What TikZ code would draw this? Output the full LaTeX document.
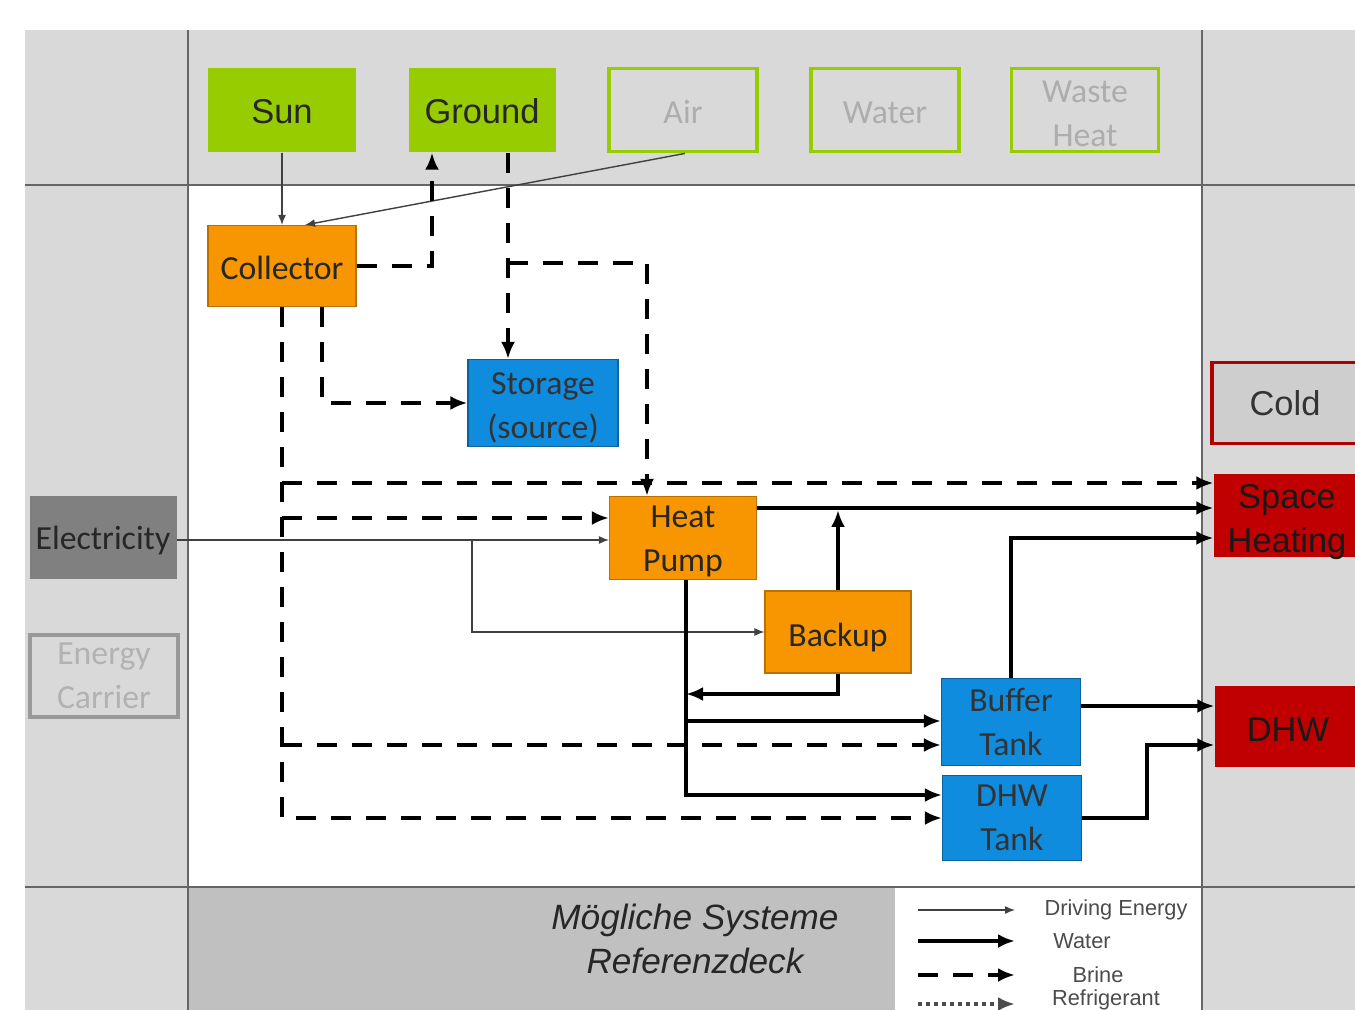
\documentclass[tikz,border=0pt]{standalone}
\usepackage{fontspec}
\setmainfont{Liberation Sans}
\newfontfamily\calibfont{Carlito}
\usepackage{tikz}
\usetikzlibrary{positioning}
\usetikzlibrary{calc,arrows.meta}
\usepackage{xcolor}
\definecolor{bggray}{RGB}{217,217,217}
\definecolor{midgray}{RGB}{192,192,192}
\definecolor{srcgreen}{RGB}{150,204,0}
\definecolor{partorange}{RGB}{247,150,0}
\definecolor{tankblue}{RGB}{16,140,222}
\definecolor{sinkred}{RGB}{192,0,0}
\definecolor{elecgray}{RGB}{128,128,128}

\begin{document}
\begin{tikzpicture}[x=0.1mm,y=-0.1mm,
  sz/.style 2 args={minimum width=#1mm, minimum height=#2mm},
  box/.style={inner sep=0pt, align=center, font=\fontsize{9.8}{12.5}\selectfont},
  cal/.style={font=\calibfont\fontsize{9.6}{12.5}\selectfont},
  low/.style={text height=#1},
  src/.style={box, fill=srcgreen, text=black!85},
  srcoff/.style={box, cal, draw=srcgreen, line width=1.1pt, text=black!32},
  part/.style={box, cal, fill=partorange, draw=partorange!75!black, line width=0.3pt, text=black!85},
  tank/.style={box, cal, fill=tankblue, draw=tankblue!70!black, line width=0.3pt, text=black!80},
  sink/.style={box, fill=sinkred, text=black!90},
  gridline/.style={draw=black!60, line width=0.5pt},
  drive/.style={draw=black!75, line width=0.4pt, -{Latex[length=1mm,width=0.8mm]}},
  water/.style={draw=black, line width=1.4pt, -{Latex[length=1.7mm,width=1.4mm]}},
  brine/.style={draw=black, line width=1.4pt, dash pattern=on 2mm off 1.5mm, -{Latex[length=1.7mm,width=1.4mm]}},
  refrig/.style={draw=black!70, line width=1.2pt, dash pattern=on 0.4mm off 0.4mm, -{Latex[length=1.7mm,width=1.4mm]}},
  legtext/.style={font=\fontsize{6.2}{7}\selectfont, text=black!70}]
\useasboundingbox (0,0) rectangle (1355,1010);
\clip (0,0) rectangle (1355,1010);

% background cells
\fill[white] (0,0) rectangle (1355,1010);
\fill[bggray] (25,30) rectangle (1355,1010);
\fill[white] (189,186) rectangle (1201,886);
\fill[midgray] (189,888) rectangle (895,1010);
\fill[white] (895,888) rectangle (1201,1010);
\draw[gridline] (188,30) -- (188,1010);
\draw[gridline] (1202,30) -- (1202,1010);
\draw[gridline] (25,185) -- (1355,185);
\draw[gridline] (25,887) -- (1355,887);

% sources
\node[src, sz={14.8}{8.4}, low=8pt] (sun) at (282,110) {Sun};
\node[src, sz={14.7}{8.4}, low=8pt] (ground) at (482,110) {Ground};
\node[srcoff, sz={14.8}{8.3}, low=7.5pt, text depth=0pt] (air) at (683,110) {Air};
\node[srcoff, sz={14.8}{8.3}, low=7.5pt, text depth=0pt] (water) at (885,110) {Water};
\node[srcoff, sz={14.7}{8.3}, low=21pt] (waste) at (1085,110) {Waste\\Heat};

% energy carriers
\node[box, cal, fill=elecgray, text=black!85, sz={14.7}{8.3}, text depth=0pt] (elec) at (103,538) {Electricity};
\node[box, cal, draw=black!40, line width=1pt, text=black!30, sz={14.8}{8.2}] (carrier) at (104,676) {Energy\\Carrier};

% components
\node[part, sz={14.8}{8.1}, low=7.5pt, text depth=0pt] (coll) at (282,266) {Collector};
\node[tank, sz={15}{8.7}, low=21.5pt] (stor) at (543,403) {Storage\\(source)};
\node[part, sz={14.7}{8.3}, low=19.1pt, text depth=0pt] (hp) at (683,538) {Heat\\Pump};
\node[part, sz={14.6}{8.2}, low=8pt, text depth=0pt] (backup) at (838,632) {Backup};
\node[tank, sz={13.9}{8.7}] (buffer) at (1011,722) {Buffer\\Tank};
\node[tank, sz={13.9}{8.5}] (dhwt) at (1012,818) {DHW\\Tank};

% sinks
\node[box, fill=bggray!95!black, draw=sinkred!90!black, line width=1pt, text=black!80, sz={14.6}{8.1}] (cold) at (1285,403) {Cold};
\node[sink, sz={14.6}{8.3}, low=20.9pt, text depth=0pt] (sh) at (1287,516) {Space\\Heating};
\node[sink, sz={14.6}{8.1}, low=8.5pt] (dhw) at (1288,727) {DHW};

% driving energy
\draw[drive] (sun) -- (coll);
\draw[drive] ($(air.south)+(2,0)$) -- ($(coll.north)+(23,0)$);
\draw[drive] (elec.east |- 0,540) -- (hp.west |- 0,540);
\coordinate (esplit) at (472,540);
\draw[drive] (esplit) |- (backup.west);

% brine
\draw[brine] (coll.east) -| ($(ground.south)+(-50,0)$);
\draw[brine] ($(ground.south)+(26,0)$) -- ($(stor.north)+(-35,0)$);
\coordinate (gsplit) at (508,263);
\draw[brine] (gsplit) -| ($(hp.north)+(-36,0)$);
\draw[brine] ($(coll.south)+(40,0)$) |- (stor.west);
\draw[brine] (coll.south) |- (dhwt.west);
\draw[brine] (coll.south |- 0,483) -- (sh.west |- 0,483);
\draw[brine] (coll.south |- 0,518) -- (hp.west |- 0,518);
\draw[brine] (coll.south |- 0,745) -- (buffer.west |- 0,745);

% water
\draw[water] (hp.east |- 0,508) -- (sh.west |- 0,508);
\draw[water] (backup.north) -- (backup.north |- 0,510);
\coordinate (hpdown) at ($(hp.south)+(3,0)$);
\draw[water] (hpdown) |- ($(dhwt.west)+(0,-23)$);
\draw[water] (hpdown |- 0,721) -- (buffer.west |- 0,721);
\draw[water] (backup.south) |- (hpdown |- 0,694);
\draw[water] (buffer.north) |- (sh.west |- 0,538);
\draw[water] (buffer.east |- 0,706) -- (dhw.west |- 0,706);
\coordinate (dhwup) at (1147,745);
\draw[water] (dhwt.east) -| (dhwup) -- (dhw.west |- dhwup);

% caption
\node[font=\itshape\fontsize{10}{12.5}\selectfont, text=black!85, align=center] (title) at (695,939) {Mögliche Systeme\\Referenzdeck};

% legend
\draw[drive] (918,910) -- (1015,910);
\draw[water] (918,941) -- (1015,941);
\draw[brine] (918,975) -- (1015,975);
\draw[refrig] (918,1004) -- (1015,1004);
\node[legtext] (lgdrive) at (1116,910) {Driving Energy};
\node[legtext] (lgwater) at (1082,941) {Water};
\node[legtext] (lgbrine) at (1098,975) {Brine};
\node[legtext] (lgrefrig) at (1106,1000) {Refrigerant};
\end{tikzpicture}
\end{document}
